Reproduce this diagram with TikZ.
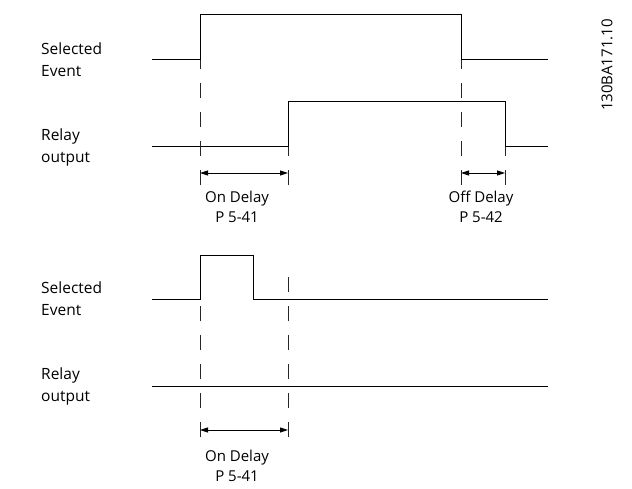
\documentclass[tikz,border=0pt]{standalone}
\usepackage{fontspec}
\setmainfont{Open Sans}
\usetikzlibrary{arrows.meta}

\begin{document}
\begin{tikzpicture}[
  x=1pt, y=-1pt,
  font=\fontsize{15}{20}\selectfont,
  lbl/.style={anchor=west, align=left, inner sep=0pt, font=\fontsize{15.5}{22}\selectfont},
  note/.style={anchor=north, align=center, inner sep=0pt},
  wave/.style={line width=1pt, black},
  guide/.style={line width=1pt, black!85, dash pattern=on 15pt off 14pt},
  dim/.style={{Triangle[length=8pt,width=5pt]}-{Triangle[length=8pt,width=5pt]}, line width=0.8pt},
]
\useasboundingbox (0,0) rectangle (632,489);

% upper timing diagram
\node[lbl] (ev1) at (41,60) {Selected\\Event};
\node[lbl] (ro1) at (41,147) {Relay\\output};
\draw[wave] (152,60) -- (200,60) -- (200,15) -- (461,15) -- (461,60) -- (548,60);
\draw[wave] (152,147) -- (288,147) -- (288,102) -- (505,102) -- (505,147) -- (548,147);

\coordinate (on1a) at (200,173);
\coordinate (on1b) at (288,173);
\coordinate (off1a) at (461,173);
\coordinate (off1b) at (505,173);

\draw[guide] (200,185) -- (200,60);
\draw[guide] (288,185) -- (288,147);
\draw[guide] (461,185) -- (461,60);
\draw[guide] (505,185) -- (505,147);

\draw[dim] (on1a) -- (on1b);
\draw[dim] (off1a) -- (off1b);
\node[note] (ondly1) at (237,191) {On Delay\\P 5-41};
\node[note] (offdly1) at (481,191) {Off Delay\\P 5-42};

% lower timing diagram
\node[lbl] (ev2) at (41,299) {Selected\\Event};
\node[lbl] (ro2) at (41,386) {Relay\\output};
\draw[wave] (152,299) -- (200,299) -- (200,256) -- (253,256) -- (253,299) -- (548,299);
\draw[wave] (152,386) -- (548,386);

\coordinate (on2a) at (200,430);
\coordinate (on2b) at (288,430);

\draw[guide] (200,437) -- (200,299);
\draw[guide] (288,437) -- (288,271);

\draw[dim] (on2a) -- (on2b);
\node[note] (ondly2) at (237,450) {On Delay\\P 5-41};

\node[rotate=90, inner sep=0pt] (docid) at (607,65) {130BA171.10};

\end{tikzpicture}
\end{document}
